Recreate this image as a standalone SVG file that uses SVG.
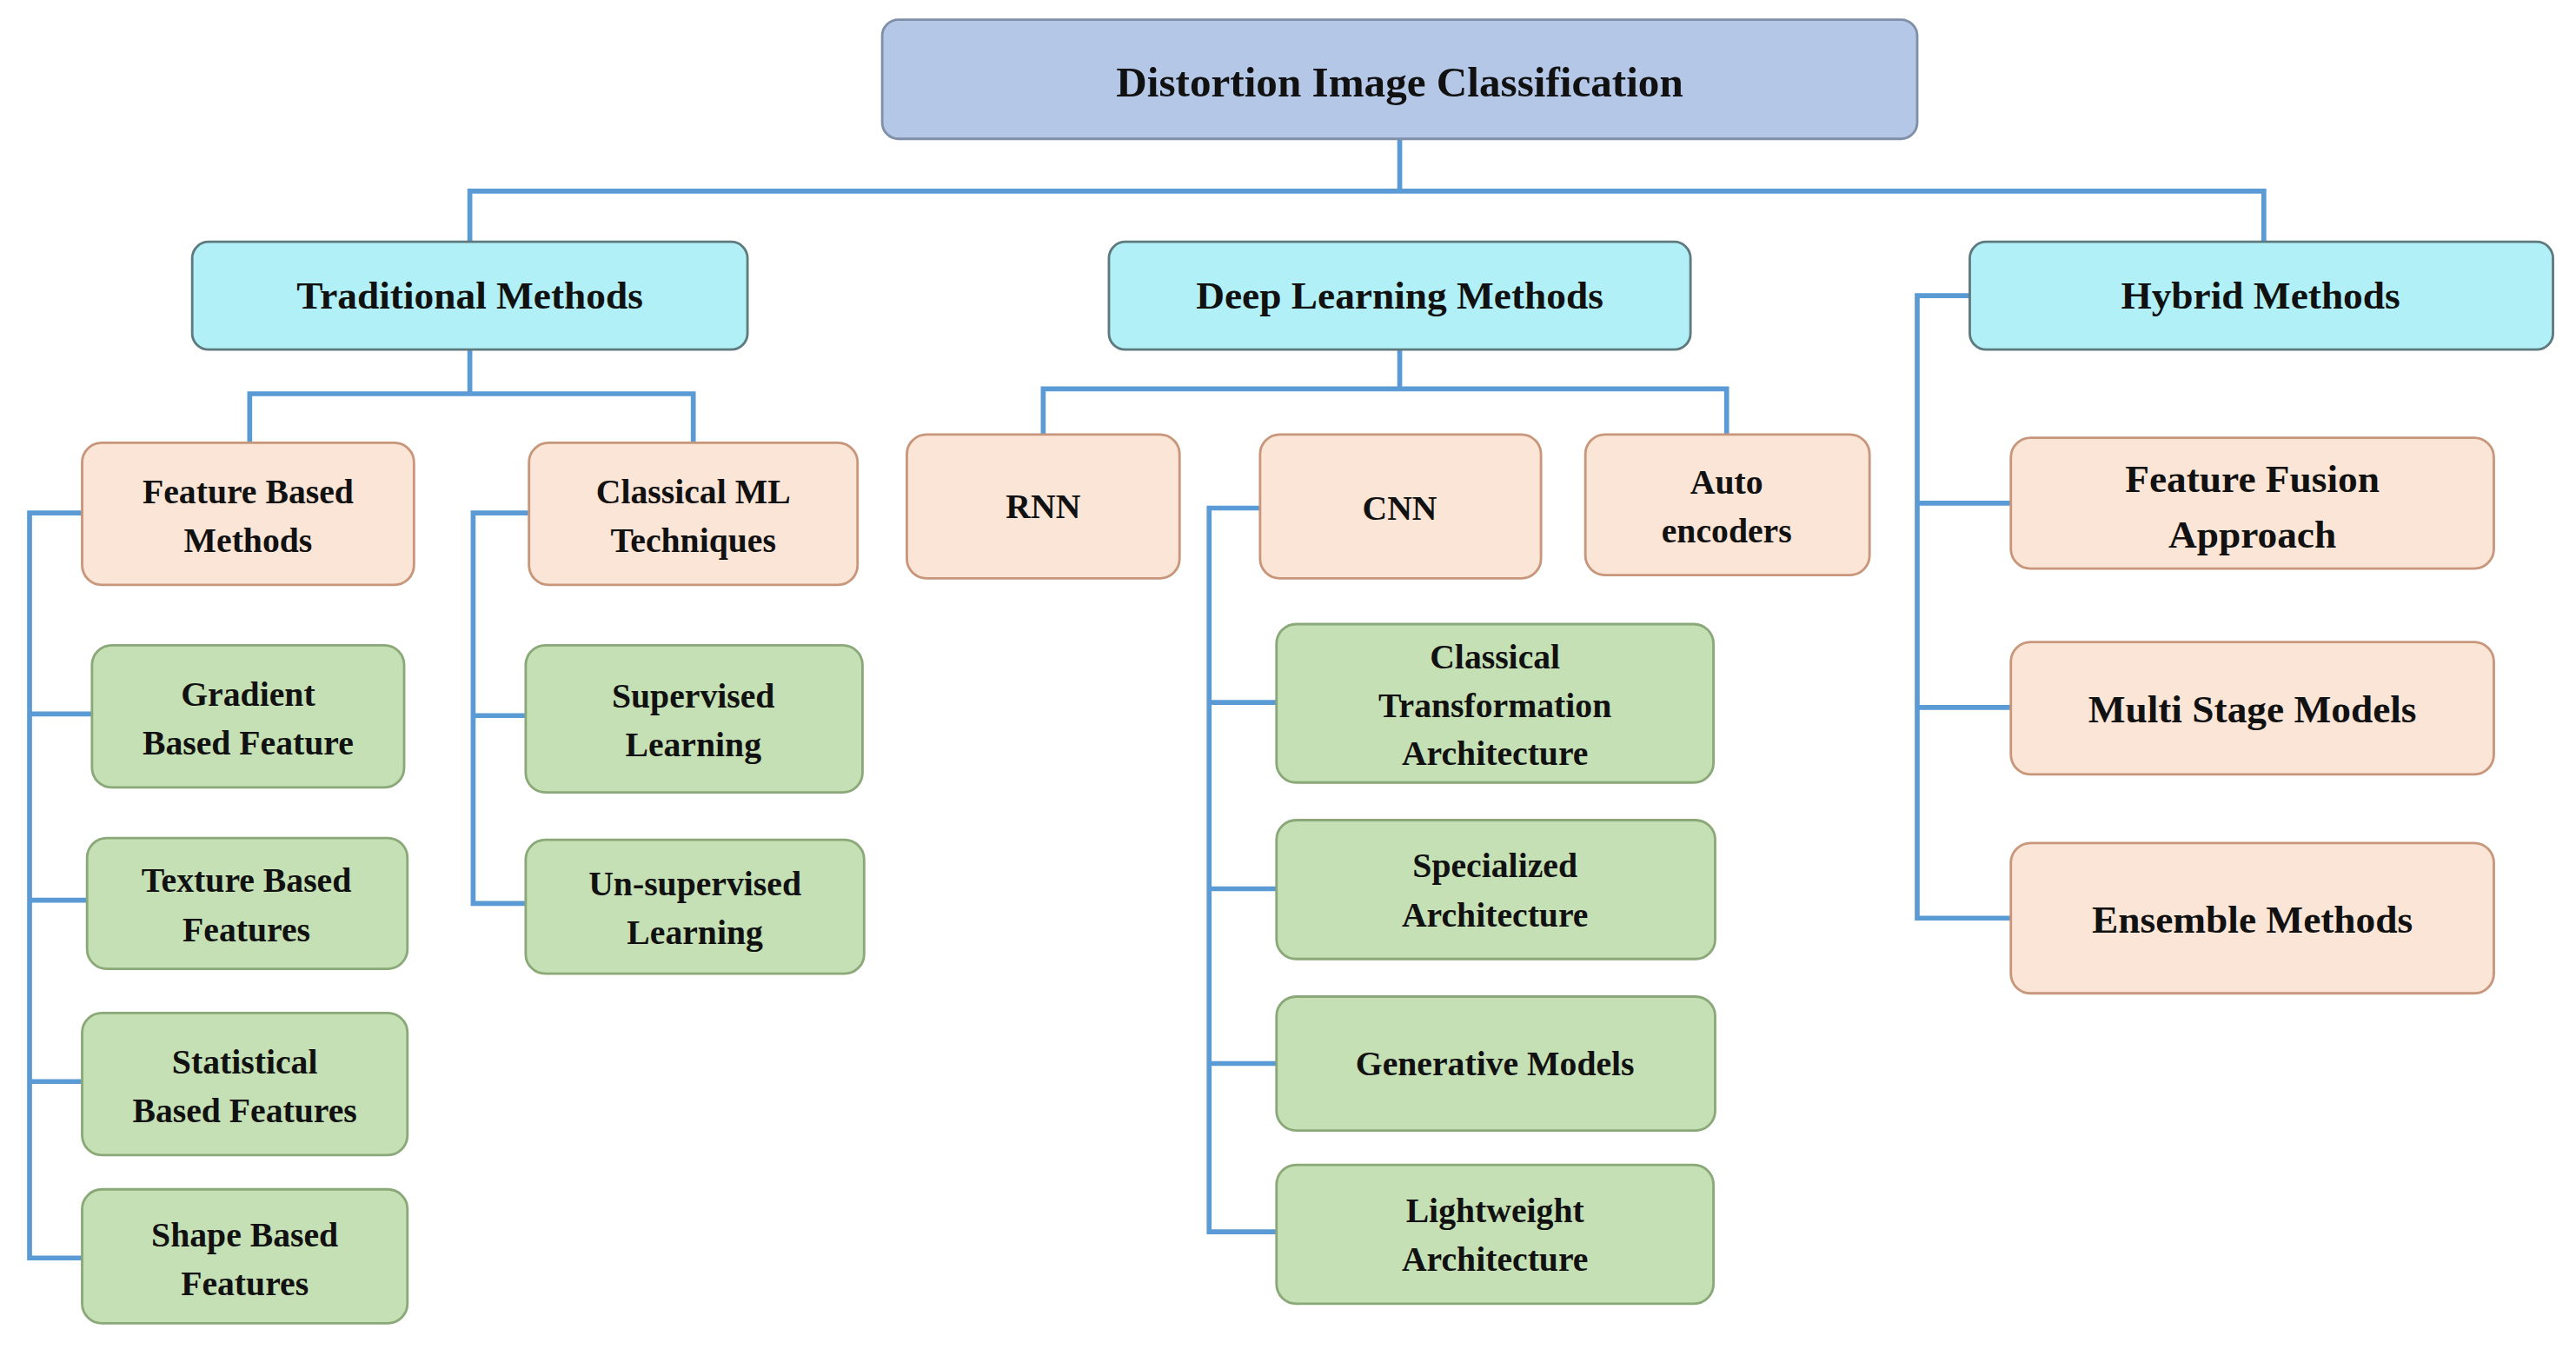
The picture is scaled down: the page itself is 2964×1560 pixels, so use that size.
<svg xmlns="http://www.w3.org/2000/svg" width="2964" height="1560" viewBox="0 0 2964 1560">
<style>
text{font-family:"Liberation Serif","Times New Roman",serif;font-weight:bold;fill:#111;text-anchor:middle}
.r{fill:#b4c7e7;stroke:#7f8fa8;stroke-width:1.5}
.c{fill:#b0f0f6;stroke:#5e7a7e;stroke-width:1.5}
.p{fill:#fbe5d6;stroke:#c8967a;stroke-width:1.5}
.g{fill:#c5e0b4;stroke:#8aa878;stroke-width:1.5}
.t3{font-size:21px}
.t2{font-size:24px}
#conn path{fill:none;stroke:#5b9bd5;stroke-width:3}
</style>
<rect width="2964" height="1560" fill="#fff"/>
<g transform="scale(1.8903 1.8795)">
<g id="conn">
<path d="M852 85V117M286 148V117H1378V148"/>
<path d="M286 214V241M152 271V241H422V271"/>
<path d="M50 314H18V770H50M18 437H56M18 551H53M18 662H50"/>
<path d="M322 314H288V553H320M288 438H320"/>
<path d="M852 214V238M635 266V238H1051V266"/>
<path d="M767 311H736V754H777M736 430H777M736 544H777M736 651H777"/>
<path d="M1199 181H1167V562H1224M1167 308H1224M1167 433H1224"/>
</g>
<g id="root"><rect class="r" x="537" y="12" width="630" height="73" rx="10"/><text x="852" y="59" font-size="26">Distortion Image Classification</text></g>
<g id="trad"><rect class="c" x="117" y="148" width="338" height="66" rx="10"/><text class="t2" x="286" y="189">Traditional Methods</text></g>
<g id="deep"><rect class="c" x="675" y="148" width="354" height="66" rx="10"/><text class="t2" x="852" y="189">Deep Learning Methods</text></g>
<g id="hybrid"><rect class="c" x="1199" y="148" width="355" height="66" rx="10"/><text class="t2" x="1376" y="189">Hybrid Methods</text></g>
<g id="fbm"><rect class="p" x="50" y="271" width="202" height="87" rx="12"/><text class="t3"><tspan x="151" y="308">Feature Based</tspan><tspan x="151" y="338">Methods</tspan></text></g>
<g id="cml"><rect class="p" x="322" y="271" width="200" height="87" rx="12"/><text class="t3"><tspan x="422" y="308">Classical ML</tspan><tspan x="422" y="338">Techniques</tspan></text></g>
<g id="grad"><rect class="g" x="56" y="395" width="190" height="87" rx="12"/><text class="t3"><tspan x="151" y="432">Gradient</tspan><tspan x="151" y="462">Based Feature</tspan></text></g>
<g id="tex"><rect class="g" x="53" y="513" width="195" height="80" rx="12"/><text class="t3"><tspan x="150" y="546">Texture Based</tspan><tspan x="150" y="576">Features</tspan></text></g>
<g id="stat"><rect class="g" x="50" y="620" width="198" height="87" rx="12"/><text class="t3"><tspan x="149" y="657">Statistical</tspan><tspan x="149" y="687">Based Features</tspan></text></g>
<g id="shape"><rect class="g" x="50" y="728" width="198" height="82" rx="12"/><text class="t3"><tspan x="149" y="763">Shape Based</tspan><tspan x="149" y="793">Features</tspan></text></g>
<g id="sup"><rect class="g" x="320" y="395" width="205" height="90" rx="12"/><text class="t3"><tspan x="422" y="433">Supervised</tspan><tspan x="422" y="463">Learning</tspan></text></g>
<g id="unsup"><rect class="g" x="320" y="514" width="206" height="82" rx="12"/><text class="t3"><tspan x="423" y="548">Un-supervised</tspan><tspan x="423" y="578">Learning</tspan></text></g>
<g id="rnn"><rect class="p" x="552" y="266" width="166" height="88" rx="12"/><text class="t3" x="635" y="317">RNN</text></g>
<g id="cnn"><rect class="p" x="767" y="266" width="171" height="88" rx="12"/><text class="t3" x="852" y="318">CNN</text></g>
<g id="auto"><rect class="p" x="965" y="266" width="173" height="86" rx="12"/><text class="t3"><tspan x="1051" y="302">Auto</tspan><tspan x="1051" y="332">encoders</tspan></text></g>
<g id="cta"><rect class="g" x="777" y="382" width="266" height="97" rx="12"/><text class="t3"><tspan x="910" y="409">Classical</tspan><tspan x="910" y="439">Transformation</tspan><tspan x="910" y="468">Architecture</tspan></text></g>
<g id="spec"><rect class="g" x="777" y="502" width="267" height="85" rx="12"/><text class="t3"><tspan x="910" y="537">Specialized</tspan><tspan x="910" y="567">Architecture</tspan></text></g>
<g id="gen"><rect class="g" x="777" y="610" width="267" height="82" rx="12"/><text class="t3" x="910" y="658">Generative Models</text></g>
<g id="light"><rect class="g" x="777" y="713" width="266" height="85" rx="12"/><text class="t3"><tspan x="910" y="748">Lightweight</tspan><tspan x="910" y="778">Architecture</tspan></text></g>
<g id="ffa"><rect class="p" x="1224" y="268" width="294" height="80" rx="12"/><text class="t2"><tspan x="1371" y="301">Feature Fusion</tspan><tspan x="1371" y="335">Approach</tspan></text></g>
<g id="msm"><rect class="p" x="1224" y="393" width="294" height="81" rx="12"/><text class="t2" x="1371" y="442">Multi Stage Models</text></g>
<g id="ens"><rect class="p" x="1224" y="516" width="294" height="92" rx="12"/><text class="t2" x="1371" y="571">Ensemble Methods</text></g>
</g>
</svg>
